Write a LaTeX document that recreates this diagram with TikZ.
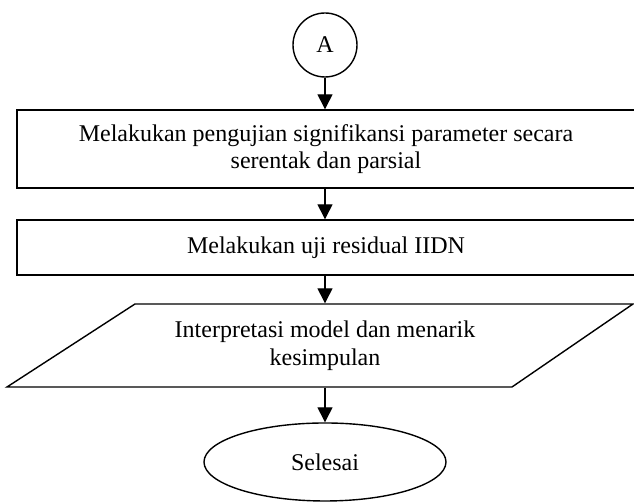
\documentclass[tikz,border=0pt]{standalone}
\usepackage{fontspec}
\setmainfont{Liberation Serif}
\usetikzlibrary{arrows.meta, shapes.geometric}

\tikzset{
	proses/.style = {draw, minimum width = 309pt, inner sep = 0pt, align = center},
	konektor/.style = {draw, circle, minimum size = 32pt, inner sep = 0pt},
	terminal/.style = {draw, ellipse, minimum width = 121pt, minimum height = 39pt, inner sep = 0pt}
}

\begin{document}
\begin{tikzpicture}[> = {Triangle[width = 7.5pt, length = 7.5pt]}, x = 1pt, y = 1pt, line width = 0.7pt, font = \fontsize{12pt}{13.8pt}\selectfont]

	% Canvas
	
	\clip (0, 0) rectangle (317, 251);

	% Steps
	
	\node [konektor] (A) at (162.5, 228.5) {A};
	\node [proses, minimum height = 39pt] (uji) at (163, 176.5) {Melakukan pengujian signifikansi parameter secara\\serentak dan parsial};
	\node [proses, minimum height = 27.5pt] (resid) at (163, 127.25) {Melakukan uji residual IIDN};
	\node [minimum height = 41.5pt, inner sep = 0pt, align = center] (interp) at (162.5, 78.25) {Interpretasi model dan menarik\\kesimpulan};
	\node [terminal] (selesai) at (162.5, 20) {Selesai};

	% Parallelogram
	
	\draw (3.5, 57.5) -- (256, 57.5) -- (316.5, 99) -- (67.5, 99) -- cycle;

	% Arrows
	
	\draw [->] (A) -- (A |- uji.north);
	\draw [->] (A |- uji.south) -- (A |- resid.north);
	\draw [->] (A |- resid.south) -- (interp.north);
	\draw [->] (interp.south) -- (selesai);

\end{tikzpicture}
\end{document}
